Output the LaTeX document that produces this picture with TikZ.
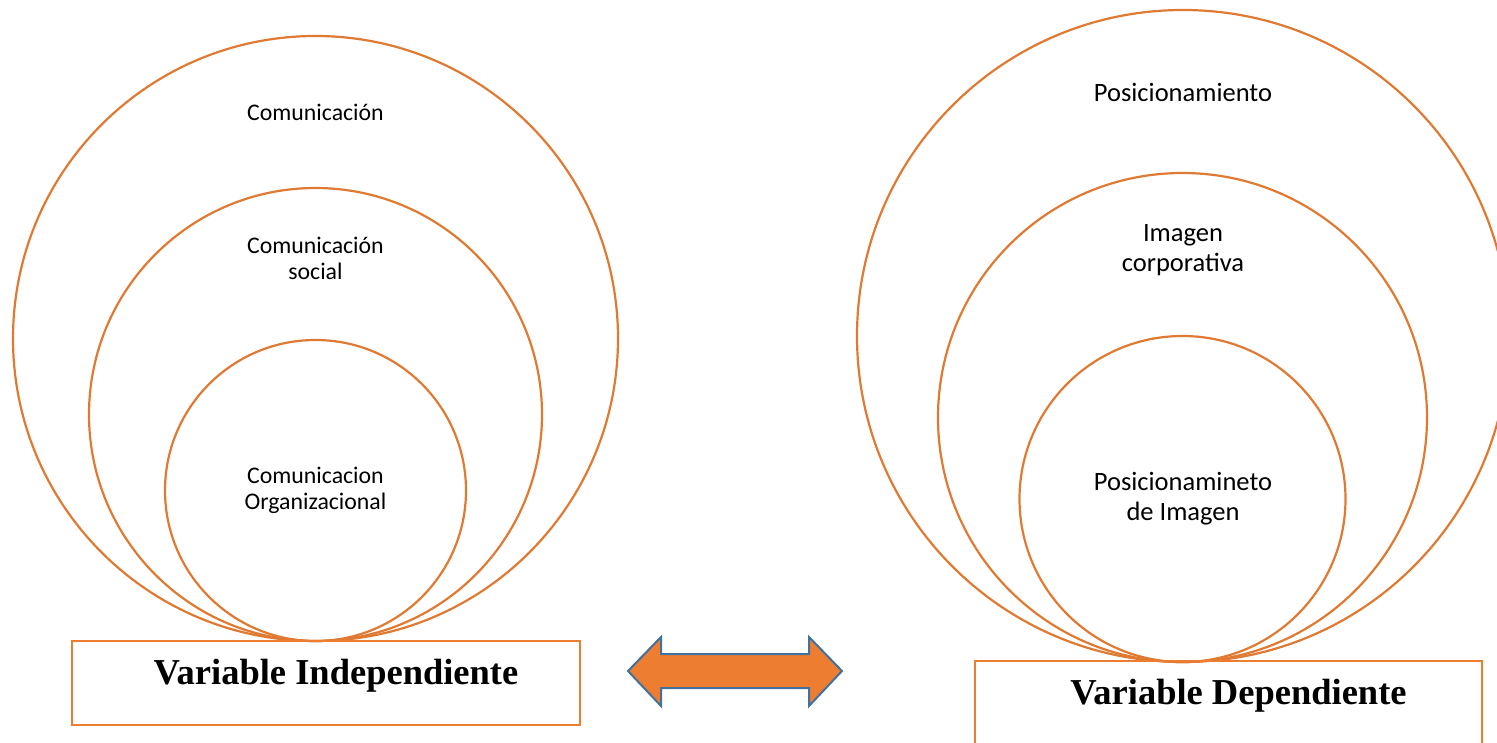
\documentclass[tikz,border=0pt]{standalone}
\usepackage{fontspec}
\setmainfont{Liberation Serif}
\newfontfamily\labelfont{Carlito}
\definecolor{ringorange}{RGB}{224,122,50}
\definecolor{boxorange}{RGB}{237,125,49}
\definecolor{arrowblue}{RGB}{65,113,156}
\begin{document}
\begin{tikzpicture}[x=1pt,y=-1pt,
  ring/.style={circle, draw=ringorange, line width=2.2pt, inner sep=0pt},
  lbl/.style={font=\labelfont\fontsize{23.8}{26}\selectfont, align=center, text=black},
  lblr/.style={font=\labelfont\fontsize{26.5}{30}\selectfont, align=center, text=black},
  varbox/.style={draw=boxorange, line width=2.5pt, inner sep=0pt},
  vartext/.style={font=\bfseries\fontsize{36.5}{40}\selectfont, text=black}
]
\useasboundingbox (0,0) rectangle (1497,743);

% independent variable: nested circles touching at the bottom
\node[ring, minimum size=605pt] (outerL) at (315.5,338.5) {};
\node[ring, minimum size=453pt] (midL) at (315.5,414.5) {};
\node[ring, minimum size=301pt] (innerL) at (315.5,490.5) {};
\node[lbl] (tL1) at (315.5,112) {Comunicación};
\node[lbl] (tL2) at (315.5,258) {Comunicación\\social};
\node[lbl] (tL3) at (315.5,490) {Comunicacion\\Organizacional};

% dependent variable: nested circles touching at the bottom
\node[ring, minimum size=652pt] (outerR) at (1183,336) {};
\node[ring, minimum size=489pt] (midR) at (1182.5,417.5) {};
\node[ring, minimum size=326pt] (innerR) at (1182.5,499) {};
\node[lblr] (tR1) at (1183,92) {Posicionamiento};
\node[lblr] (tR2) at (1183,250) {Imagen\\corporativa};
\node[lblr] (tR3) at (1183,499) {Posicionamineto\\de Imagen};

% variable boxes
\node[varbox, minimum width=508pt, minimum height=84pt] (boxL) at (326,683) {};
\node[vartext] (vL) at (336,676) {Variable Independiente};
\node[varbox, minimum width=507pt, minimum height=110pt] (boxR) at (1228.5,716) {};
\node[vartext] (vR) at (1238.5,696) {Variable Dependiente};

% double-headed arrow between the two variables
\draw[fill=boxorange, draw=arrowblue, line width=2pt, line join=miter]
  (628,671) -- (661,637) -- (661,654) -- (809,654) -- (809,637) -- (842,671)
  -- (809,706) -- (809,688) -- (661,688) -- (661,706) -- cycle;
\end{tikzpicture}
\end{document}
